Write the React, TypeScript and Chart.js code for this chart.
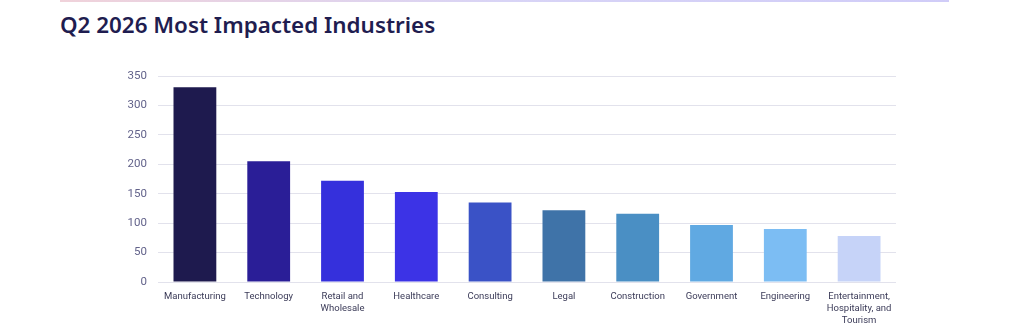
import React, { useEffect, useRef } from "react";
import { Chart, registerables } from "chart.js";

Chart.register(...registerables);

const categories: string[][] = [
  ["Manufacturing"],
  ["Technology"],
  ["Retail and", "Wholesale"],
  ["Healthcare"],
  ["Consulting"],
  ["Legal"],
  ["Construction"],
  ["Government"],
  ["Engineering"],
  ["Entertainment,", "Hospitality, and", "Tourism"],
];

const values: number[] = [331, 205, 172, 153, 135, 122, 116, 97, 90, 78];

const barColors: string[] = [
  "#1e1a4e",
  "#2a1e97",
  "#3530dc",
  "#3c33e6",
  "#3a52c6",
  "#3f73a8",
  "#4a8fc4",
  "#60a9e2",
  "#7cbdf3",
  "#c6d3f8",
];

const yMax = 350;
const yStep = 50;

export default function App() {
  const ref = useRef<HTMLCanvasElement | null>(null);

  useEffect(() => {
    if (!ref.current) return;
    const padLeft = 60;
    const padBottom = 0;
    const chart = new Chart(ref.current, {
      type: "bar",
      data: {
        labels: categories,
        datasets: [
          {
            data: values,
            backgroundColor: barColors,
            borderWidth: 0,
            barPercentage: 0.58,
            categoryPercentage: 1,
          },
        ],
      },
      options: {
        animation: false,
        responsive: false,
        layout: { padding: { left: padLeft, right: 128, top: 76, bottom: padBottom } },
        plugins: {
          legend: { display: false },
          tooltip: { enabled: false },
        },
        scales: {
          x: {
            grid: { display: false },
            border: { display: false },
            ticks: {
              autoSkip: false,
              maxRotation: 0,
              minRotation: 0,
              padding: 1,
              color: "#3b3b58",
              font: { family: "Roboto", size: 9.5, lineHeight: 1.25 },
            },
            afterFit: (s: any) => {
              s.height = 335 - 282 - padBottom;
            },
          },
          y: {
            min: 0,
            max: yMax,
            ticks: {
              stepSize: yStep,
              padding: 11,
              color: "#62628a",
              font: { family: "Roboto", size: 11.5 },
            },
            grid: { color: "#e2e2ec", lineWidth: 1, drawTicks: false },
            border: { display: false },
            afterFit: (s: any) => {
              s.width = 158 - padLeft;
            },
          },
        },
      },
    });
    return () => chart.destroy();
  }, []);

  return (
    <div style={{ position: "absolute", left: 0, top: 0, width: 1024, height: 335, background: "#fff", overflow: "hidden" }}>
      <div
        style={{
          position: "absolute",
          left: 60,
          top: 0,
          width: 889,
          height: 2,
          background: "linear-gradient(to right, #f0d2da, #d8d4f6, #d0ccf8)",
        }}
      />
      <div
        style={{
          position: "absolute",
          left: 60,
          top: 10,
          fontFamily: "'Noto Sans', sans-serif",
          fontWeight: 600,
          fontSize: 22.4,
          color: "#1f1d50",
          whiteSpace: "nowrap",
          lineHeight: "30px",
        }}
      >
        Q2 2026 Most Impacted Industries
      </div>
      <canvas ref={ref} width={1024} height={335} style={{ position: "absolute", left: 0, top: 0 }} />
    </div>
  );
}
